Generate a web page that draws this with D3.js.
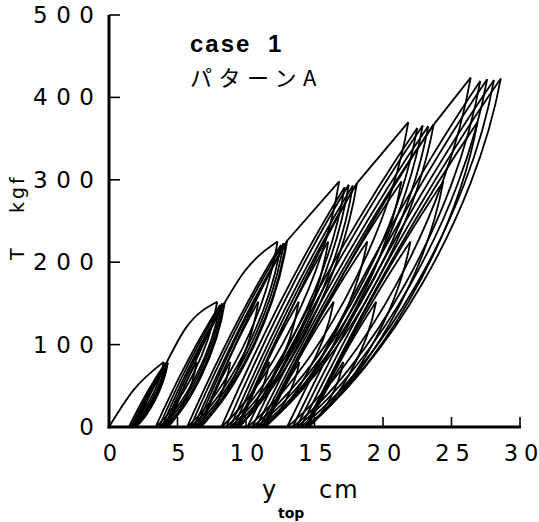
<!DOCTYPE html>
<html>
<head>
<meta charset="utf-8">
<script src="https://cdn.jsdelivr.net/npm/d3@7"></script>
<style>
  body { margin: 0; background: #fff; }
  svg { display: block; }
</style>
</head>
<body>
<svg id="chart" width="539" height="522"></svg>
<script>
// Axis ticks
const xTicks = [0, 5, 10, 15, 20, 25, 30];
const yTicks = [0, 100, 200, 300, 400, 500];

// First-loading (skeleton) segments leading up to each amplitude level: y_top (cm), T (kgf)
const skeletonX = [[0, 1.8, 4.0], [4.2, 5.6, 7.9], [8.45, 9.9, 12.3], [13.0, 16.8], [18.1, 21.85], [23.7, 26.4]];
const skeletonT = [[0, 45, 79], [78, 120, 152], [151, 189, 225], [226, 298], [296, 370], [367, 424]];

// Repeated cycles at each amplitude level
const peakX = [
  [4.0, 4.1, 4.2, 4.25, 4.3],
  [7.9, 8.1, 8.25, 8.35, 8.45],
  [12.3, 12.55, 12.75, 12.9, 13.0],
  [16.8, 17.2, 17.5, 17.8, 18.1],
  [21.85, 22.5, 22.9, 23.3, 23.7],
  [26.4, 27.1, 27.6, 28.1, 28.6]
];
const peakT = [
  [79, 77, 78, 77, 78],
  [152, 148, 150, 149, 151],
  [225, 221, 223, 222, 226],
  [298, 291, 294, 293, 296],
  [370, 363, 366, 365, 367],
  [424, 420, 422, 421, 423]
];
const residualX = [
  [1.45, 1.6, 1.72, 1.84, 1.95],
  [3.4, 3.65, 3.85, 4.05, 4.2],
  [5.7, 5.95, 6.2, 6.4, 6.6],
  [8.2, 8.55, 8.85, 9.1, 9.35],
  [10.1, 10.45, 10.75, 11.0, 11.2],
  [13.0, 13.4, 13.7, 14.0, 14.3]
];

// Smaller cycles that follow the repeated ones at each level
const innerPeakX = [[], [6.4], [10.9, 8.85], [16.0, 13.85, 11.7], [21.35, 18.85, 16.4, 13.9], [26.9, 24.4, 22.0, 19.5, 17.1]];
const innerPeakT = [[], [79], [152, 79], [225, 152, 79], [298, 225, 152, 79], [370, 298, 225, 152, 79]];
const innerResidualX = [[], [4.3], [6.65, 6.7], [9.4, 9.45, 9.5], [11.25, 11.3, 11.35, 11.4], [14.35, 14.4, 14.45, 14.5, 14.55]];

const svg = d3.select("#chart");

const x = d3.scaleLinear().domain([0, 30]).range([109, 520]);
const y = d3.scaleLinear().domain([0, 500]).range([427, 15]);

const ink = "#000";
const curves = svg.append("g")
  .attr("fill", "none")
  .attr("stroke", ink)
  .attr("stroke-width", 1.8)
  .attr("stroke-linejoin", "round");

const skeletonLine = d3.line()
  .x(d => x(d[0]))
  .y(d => y(d[1]))
  .curve(d3.curveMonotoneX);

// Reloading branch: rises almost straight, easing slightly toward the peak
function loadBranch(x0, x1, t1) {
  const p = d3.path();
  const ax = x(x0), ay = y(0), bx = x(x1), by = y(t1);
  const dx = bx - ax, dy = by - ay;
  p.moveTo(ax, ay);
  p.bezierCurveTo(ax + 0.3 * dx, ay + 0.35 * dy, ax + 0.66 * dx, ay + 0.72 * dy, bx, by);
  return p.toString();
}
// Unloading branch: steep drop from the peak, bending back to the residual
function unloadBranch(x1, t1, x0) {
  const p = d3.path();
  const ax = x(x0), ay = y(0), bx = x(x1), by = y(t1);
  const dx = bx - ax, dy = by - ay;
  p.moveTo(bx, by);
  p.bezierCurveTo(ax + 0.87 * dx, ay + 0.6 * dy, ax + 0.4 * dx, ay + 0.17 * dy, ax, ay);
  return p.toString();
}

let start = 0;
peakX.forEach((px, g) => {
  const sk = skeletonX[g].map((v, i) => [v, skeletonT[g][i]]);
  if (g > 0) curves.append("path").attr("d", loadBranch(start, sk[0][0], sk[0][1]));
  curves.append("path").attr("d", skeletonLine(sk));

  px.forEach((xp, i) => {
    if (i > 0) curves.append("path").attr("d", loadBranch(residualX[g][i - 1], xp, peakT[g][i]));
    curves.append("path").attr("d", unloadBranch(xp, peakT[g][i], residualX[g][i]));
  });

  let r = residualX[g][px.length - 1];
  innerPeakX[g].forEach((xp, k) => {
    curves.append("path").attr("d", loadBranch(r, xp, innerPeakT[g][k]));
    curves.append("path").attr("d", unloadBranch(xp, innerPeakT[g][k], innerResidualX[g][k]));
    r = innerResidualX[g][k];
  });
  start = r;
});

// Axes: ticks point into the plot, no frame on top or right
const axisG = svg.append("g").attr("stroke", ink);
axisG.append("line")
  .attr("x1", x(0)).attr("x2", x(0)).attr("y1", y(500)).attr("y2", y(0) + 1.5)
  .attr("stroke-width", 3);
axisG.append("line")
  .attr("x1", x(0) - 1.5).attr("x2", x(30) + 1).attr("y1", y(0)).attr("y2", y(0))
  .attr("stroke-width", 3);
axisG.selectAll(".xt").data(xTicks.filter(d => d > 0)).join("line")
  .attr("x1", d => x(d)).attr("x2", d => x(d))
  .attr("y1", y(0)).attr("y2", y(0) - 10)
  .attr("stroke-width", 1.6);
axisG.selectAll(".yt").data(yTicks.filter(d => d > 0)).join("line")
  .attr("x1", x(0)).attr("x2", x(0) + 11)
  .attr("y1", d => y(d)).attr("y2", d => y(d))
  .attr("stroke-width", 1.6);

// Widely tracked numerals: spread the digits to a set gap without trailing space
const numFont = "'DejaVu Sans', sans-serif";
function spread(sel, gap) {
  sel.each(function () {
    const s = String(this.textContent);
    if (s.length > 1) {
      const w = this.getComputedTextLength();
      d3.select(this).attr("textLength", w + gap * (s.length - 1)).attr("lengthAdjust", "spacing");
    }
  });
}
svg.append("g").selectAll("text").data(xTicks).join("text")
  .attr("x", d => x(d) + 1)
  .attr("y", 461)
  .attr("text-anchor", "middle")
  .attr("font-family", numFont)
  .attr("font-size", 22.5)
  .text(d => d)
  .call(spread, 6);
svg.append("g").selectAll("text").data(yTicks).join("text")
  .attr("x", 94)
  .attr("y", d => y(d) + 8)
  .attr("text-anchor", "end")
  .attr("font-family", numFont)
  .attr("font-size", 23)
  .text(d => d)
  .call(spread, 8.5);

// Axis titles
const xt = svg.append("text")
  .attr("font-family", numFont)
  .attr("font-size", 24)
  .attr("y", 498);
xt.append("tspan").attr("x", 262).text("y");
xt.append("tspan").attr("x", 278).attr("y", 518).attr("font-size", 14).attr("font-weight", "bold").text("top");
xt.append("tspan").attr("x", 319).attr("y", 498).attr("letter-spacing", 2).text("cm");

const yt = svg.append("text")
  .attr("transform", "translate(24,260) rotate(-90)")
  .attr("font-family", numFont)
  .attr("font-size", 19)
  .attr("letter-spacing", 3);
yt.append("tspan").attr("x", 0).text("T");
yt.append("tspan").attr("x", 47).text("kgf");

// Case annotation
svg.append("text")
  .attr("x", 190).attr("y", 52)
  .attr("font-family", "'Liberation Sans', Arial, sans-serif")
  .attr("font-weight", "bold")
  .attr("font-size", 24)
  .attr("letter-spacing", 2)
  .text("case")
  .append("tspan").attr("x", 268).text("1");
svg.append("text")
  .attr("x", 190).attr("y", 86)
  .attr("font-family", "'Noto Sans CJK JP', sans-serif")
  .attr("font-size", 22)
  .attr("letter-spacing", 6.5)
  .text("パターンA");
</script>
</body>
</html>
